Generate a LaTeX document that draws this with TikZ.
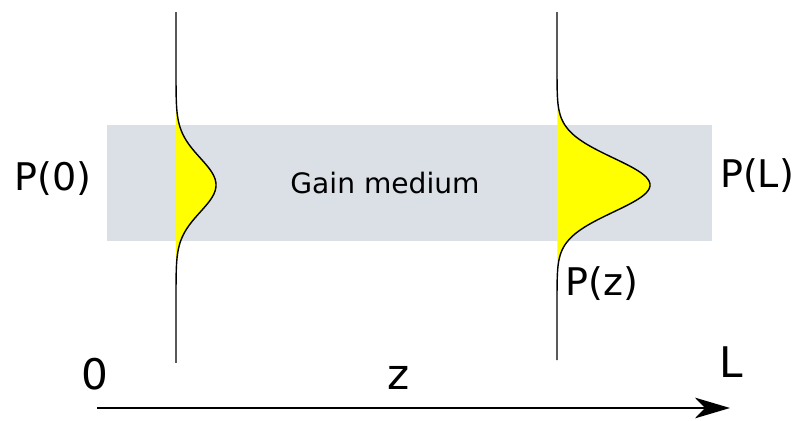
\documentclass[tikz,border=0pt]{standalone}
\usepackage{fontspec}
\setmainfont{DejaVu Sans}
\usepackage{xcolor}
\definecolor{medgray}{RGB}{218,224,230}
\definecolor{pulsey}{RGB}{255,255,0}
\usepackage{tikz}
\usetikzlibrary{arrows.meta}

\begin{document}
\begin{tikzpicture}[
  x=0.03cm,y=-0.03cm,
  plbl/.style={inner sep=0pt,font=\fontsize{32.5}{36}\selectfont},
  axlbl/.style={inner sep=0pt,font=\fontsize{36}{40}\selectfont},
  mlbl/.style={inner sep=0pt,font=\fontsize{24}{28}\selectfont},
  pulse/.style={line width=1.2pt,black}
]
  \useasboundingbox (0,0) rectangle (799,421);
  \fill[medgray] (107,125) rectangle (712,241);

  \fill[pulsey] plot[domain=95:275,samples=120] ({176+40*exp(-((\x-185)/27)^2/2)},\x) -- cycle;
  \fill[pulsey] plot[domain=95:275,samples=120] ({557+93*exp(-((\x-185)/27)^2/2)},\x) -- cycle;
  \draw[pulse] plot[domain=12:363,samples=300] ({176+40*exp(-((\x-185)/27)^2/2)},\x);
  \draw[pulse] plot[domain=12:360,samples=300] ({557+93*exp(-((\x-185)/27)^2/2)},\x);

  \node[mlbl] (gain) at (385,183) {Gain medium};
  \node[plbl] (p0) at (53,179) {P(0)};
  \node[plbl] (pl) at (757,176) {P(L)};
  \node[plbl] (pz) at (602,284) {P(z)};
  \node[axlbl] (zero) at (95,374) {0};
  \node[axlbl] (zz) at (399,378) {z};
  \node[axlbl] (ll) at (731,362) {L};

  \coordinate (zstart) at (97,408);
  \coordinate (zend) at (730,408);
  \draw[-{Stealth[length=1.05cm,width=0.62cm,inset=0.3cm]},line width=1.6pt] (zstart) -- (zend);
\end{tikzpicture}
\end{document}
